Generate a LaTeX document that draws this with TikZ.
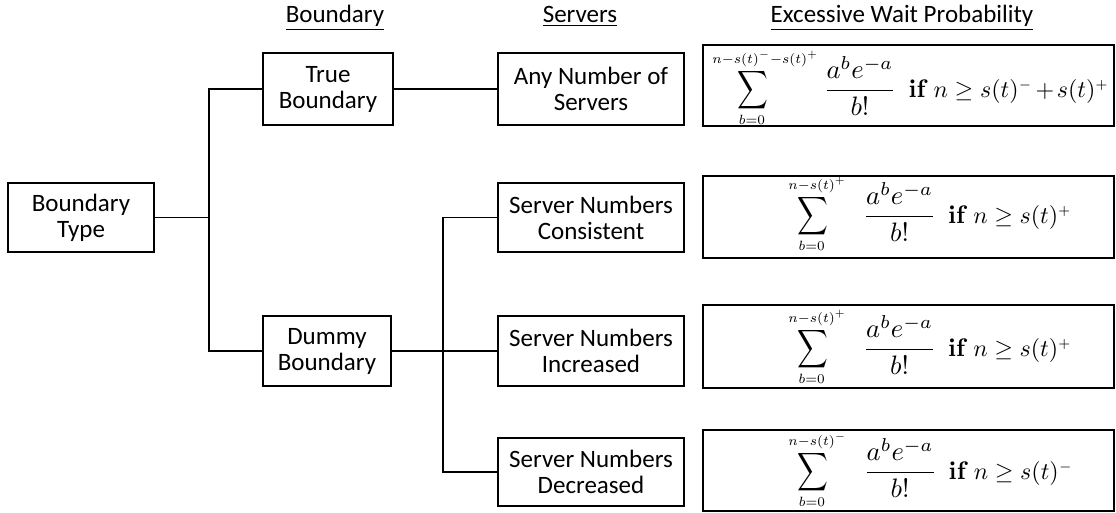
\documentclass[tikz,border=0pt]{standalone}
\usepackage{amsmath}
\usepackage[no-math]{fontspec}
\setmainfont{Carlito}
\newcommand\diagfont{\fontsize{18.75}{19.5}\selectfont}
\newcommand\sumlimit[1]{\scalebox{0.9}{$\scriptstyle #1$}}
\newcommand\sgnsup[1]{^{\scriptscriptstyle #1}}
\newcommand\tallsum{\mathop{\scalebox{1}[1.25]{$\displaystyle\sum$}}\limits}
% sum of Poisson terms: #1 upper limit, #2 gap after the sum, #3 condition
\newcommand\probsum[3]{%
  \scalebox{1.6}{$\displaystyle\tallsum_{\sumlimit{b=0}}^{\sumlimit{#1}}$}\hspace{#2}%
  \scalebox{2.0}{$\displaystyle\frac{a^b e^{-a}}{b!}$}\hspace{9pt}%
  \scalebox{1.9}{$\mathbf{if}$}\hspace{4pt}%
  \scalebox{1.8}{$#3$}}
\begin{document}
\begin{tikzpicture}[x=0.75pt,y=-0.75pt,
  box/.style={draw=black,line width=1.9pt,align=center,font=\diagfont,inner sep=0pt},
  fbox/.style={draw=black,line width=1.9pt,inner sep=0pt,minimum width=308.25pt},
  link/.style={draw=black,line width=0.9pt},
  head/.style={font=\diagfont,anchor=base,inner sep=0pt},
  formula/.style={anchor=base west,inner sep=0pt}]
\useasboundingbox (0,0) rectangle (1116,512);

% column headings
\node[head] (h1) at (335,22) {\underline{Boundary}};
\node[head] (h2) at (580,22) {\underline{Servers}};
\node[head] (h3) at (902,22) {\underline{Excessive Wait Probability}};

% decision tree boxes
\node[box,minimum width=109.5pt,minimum height=51.75pt] (bt) at (81,217.5) {Boundary\\Type};
\node[box,minimum width=97.5pt,minimum height=54pt] (tb) at (328,89) {True\\Boundary};
\node[box,minimum width=96pt,minimum height=52.5pt] (db) at (327,351) {Dummy\\Boundary};
\node[box,minimum width=139.5pt,minimum height=54pt] (an) at (591,89) {Any Number of\\Servers};
\node[box,minimum width=139.5pt,minimum height=51.75pt] (con) at (591,217.5) {Server Numbers\\Consistent};
\node[box,minimum width=139.5pt,minimum height=52.5pt] (inc) at (591,351) {Server Numbers\\Increased};
\node[box,minimum width=139.5pt,minimum height=51pt] (dec) at (591,472) {Server Numbers\\Decreased};

% probability boxes
\node[fbox,minimum height=60.75pt] (f1) at (908.5,85.5) {};
\node[fbox,minimum height=61.5pt] (f2) at (908.5,217) {};
\node[fbox,minimum height=62.25pt] (f3) at (908.5,346.5) {};
\node[fbox,minimum height=60.75pt] (f4) at (908.5,470.5) {};

\node[formula] (m1) at (712,97)
  {\probsum{n-s(t)\sgnsup{-} - s(t)\sgnsup{+}}{4pt}{n \ge s(t)\sgnsup{-} \mskip-2mu + \mskip-2mu s(t)\sgnsup{+}}};
\node[formula] (m2) at (788,223)
  {\probsum{n-s(t)\sgnsup{+}}{13pt}{n \ge s(t)\sgnsup{+}}};
\node[formula] (m3) at (788,356)
  {\probsum{n-s(t)\sgnsup{+}}{13pt}{n \ge s(t)\sgnsup{+}}};
\node[formula] (m4) at (788,479)
  {\probsum{n-s(t)\sgnsup{-}}{13pt}{n \ge s(t)\sgnsup{-}}};

% junction points of the elbow connectors
\coordinate (j1) at (209,217.5);
\coordinate (j2) at (443,351);

% connectors
\draw[link] (bt.east) -- (j1);
\draw[link] (tb.west) -- (tb.west -| j1) -- (db.west -| j1) -- (db.west);
\draw[link] (tb.east) -- (an.west);
\draw[link] (db.east) -- (inc.west);
\draw[link] (con.west) -- (con.west -| j2) -- (dec.west -| j2) -- (dec.west);
\end{tikzpicture}
\end{document}
